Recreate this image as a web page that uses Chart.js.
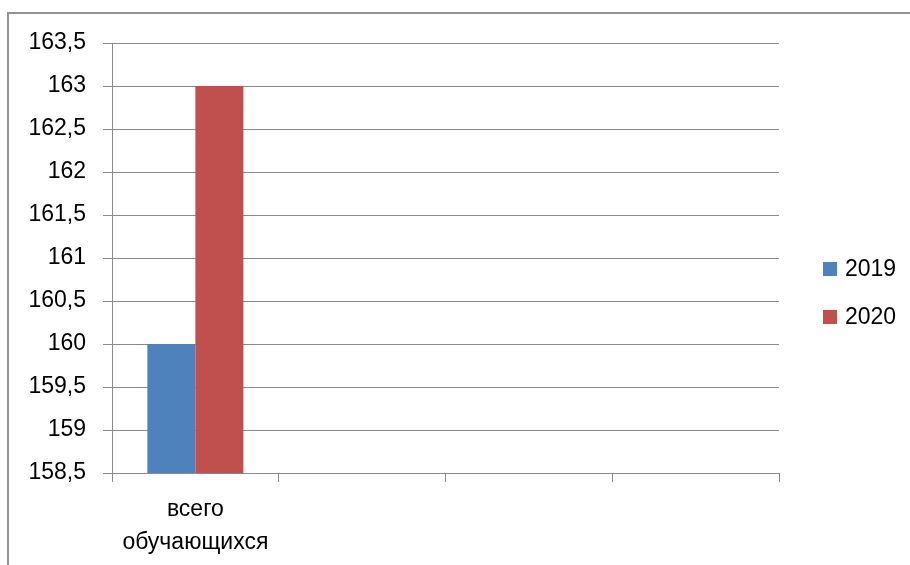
<!DOCTYPE html>
<html>
<head>
<meta charset="utf-8">
<script src="https://cdn.jsdelivr.net/npm/chart.js@4.4.0/dist/chart.umd.min.js"></script>
<style>
    html, body { margin: 0; padding: 0; background: #fff; overflow: hidden; }
    #wrap { position: relative; width: 910px; height: 565px; }
    #frame {
        position: absolute; left: 7px; top: 12px; width: 1000px; height: 1000px;
        border: 2px solid #939393; pointer-events: none;
    }
</style>
</head>
<body>
<div id="wrap">
    <canvas id="chart" width="910" height="565"></canvas>
    <div id="frame"></div>
</div>
<script>
// Chart data
const categories = [['всего', 'обучающихся'], '', '', ''];
const seriesNames = ['2019', '2020'];
const values2019 = [160, null, null, null];
const values2020 = [163, null, null, null];
const yTicks = [158.5, 159, 159.5, 160, 160.5, 161, 161.5, 162, 162.5, 163, 163.5];

const FONT = "'Liberation Sans', Arial, sans-serif";
const gridColor = '#8a8a8a';

// Simple legend on the right, Excel style
const sideLegend = {
    id: 'sideLegend',
    afterDraw(chart) {
        const ctx = chart.ctx;
        ctx.save();
        ctx.font = '23px ' + FONT;
        ctx.textBaseline = 'middle';
        chart.data.datasets.forEach((ds, i) => {
            const y = 269 + i * 48;
            ctx.fillStyle = ds.backgroundColor;
            ctx.fillRect(823, y - 7, 14, 14);
            ctx.fillStyle = '#000';
            ctx.fillText(ds.label, 845, y + 1);
        });
        ctx.restore();
    }
};

new Chart(document.getElementById('chart').getContext('2d'), {
    type: 'bar',
    data: {
        labels: categories,
        datasets: [
            { label: seriesNames[0], data: values2019, backgroundColor: '#4F81BD' },
            { label: seriesNames[1], data: values2020, backgroundColor: '#C0504D' }
        ]
    },
    options: {
        responsive: false,
        animation: false,
        layout: { padding: { top: 43, right: 131, left: 0, bottom: 0 } },
        datasets: {
            bar: { categoryPercentage: 0.576, barPercentage: 1.0 }
        },
        plugins: {
            legend: { display: false },
            tooltip: { enabled: false }
        },
        scales: {
            x: {
                grid: {
                    offset: true,
                    drawOnChartArea: false,
                    drawTicks: true,
                    tickLength: 9,
                    color: gridColor,
                    lineWidth: 1
                },
                border: { color: gridColor, width: 1 },
                ticks: {
                    color: '#000',
                    font: { family: FONT, size: 23, lineHeight: 1.4 },
                    padding: 12,
                    maxRotation: 0,
                    autoSkip: false
                },
                afterFit(scale) { scale.height = 92; }
            },
            y: {
                min: yTicks[0],
                max: yTicks[yTicks.length - 1],
                afterBuildTicks(scale) {
                    scale.ticks = yTicks.map(v => ({ value: v }));
                },
                grid: {
                    color: gridColor,
                    lineWidth: 1,
                    tickLength: 9
                },
                border: { color: gridColor, width: 1 },
                ticks: {
                    color: '#000',
                    font: { family: FONT, size: 23 },
                    padding: 17,
                    callback: v => String(v).replace('.', ',')
                },
                afterFit(scale) { scale.width = 112; }
            }
        }
    },
    plugins: [sideLegend]
});
</script>
</body>
</html>
